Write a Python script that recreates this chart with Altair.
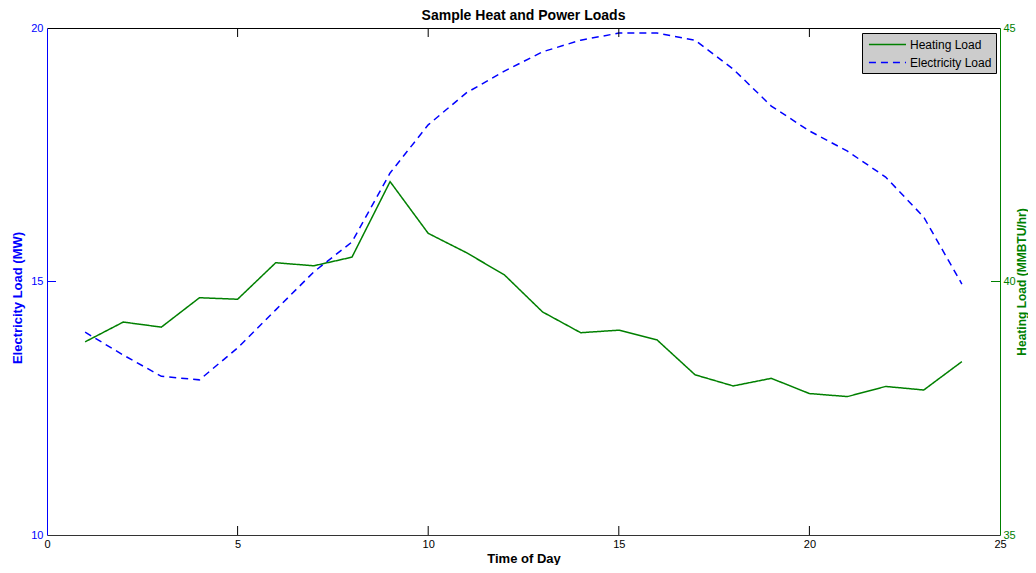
import altair as alt
import pandas as pd

# ---- data ----
hours = list(range(1, 25))
electricity = [14.00, 13.55, 13.13, 13.06, 13.69, 14.44, 15.19, 15.78, 17.14, 18.09,
               18.72, 19.15, 19.53, 19.76, 19.90, 19.90, 19.76, 19.19, 18.46, 17.97,
               17.57, 17.06, 16.27, 14.95]
heating = [38.81, 39.20, 39.10, 39.68, 39.65, 40.37, 40.31, 40.48, 41.97, 40.95,
           40.57, 40.13, 39.40, 38.99, 39.04, 38.85, 38.16, 37.94, 38.09, 37.79,
           37.73, 37.93, 37.86, 38.42]
x_ticks = [0, 5, 10, 15, 20, 25]
x_inner_ticks = [5, 10, 15, 20]
left_ticks = [10, 15, 20]
left_inner_ticks = [15]
right_ticks = [35, 40, 45]
right_inner_ticks = [40]
series_names = ["Heating Load", "Electricity Load"]
series_colors = ["#008000", "#0000ff"]
series_dashes = [[1, 0], [7, 5]]

W, H = 953, 507
TICK = 9
FONT = "Liberation Sans"
BLUE = "#0000ff"
GREEN = "#008000"

df_e = pd.DataFrame({"hour": hours, "value": electricity, "series": "Electricity Load"})
df_h = pd.DataFrame({"hour": hours, "value": heating, "series": "Heating Load"})
df_xt = pd.DataFrame({"t": x_inner_ticks})
df_lt = pd.DataFrame({"v": left_inner_ticks})
df_rt = pd.DataFrame({"v": right_inner_ticks})

xscale = alt.Scale(domain=[0, 25], nice=False, zero=False)
lscale = alt.Scale(domain=[10, 20], nice=False, zero=False)
rscale = alt.Scale(domain=[35, 45], nice=False, zero=False)

legend = alt.Legend(
    title=None, orient="none", legendX=815, legendY=5,
    fillColor="#cccccc", strokeColor="#000000", padding=4,
    labelFont=FONT, labelFontSize=12, labelColor="#000000",
    symbolType="M-0.7,0H5", symbolSize=169, symbolStrokeWidth=1.5,
    rowPadding=4, labelOffset=29,
)
color = alt.Color("series:N", scale=alt.Scale(domain=series_names, range=series_colors), legend=legend)
dash = alt.StrokeDash("series:N", scale=alt.Scale(domain=series_names, range=series_dashes), legend=legend)

heat = alt.Chart(df_h).mark_line(strokeWidth=1.5).encode(
    x=alt.X("hour:Q", scale=xscale, axis=alt.Axis(
        orient="bottom", values=x_ticks, ticks=False, labelFlush=False,
        domainColor="#333333", labelColor="#000000", labelFontSize=11, labelPadding=3,
        title="Time of Day", titleFontSize=13, titleFontWeight="bold", titleColor="#000000",
        titlePadding=3, grid=False)),
    y=alt.Y("value:Q", scale=rscale, axis=alt.Axis(
        orient="right", values=right_ticks, ticks=False, domainColor=GREEN,
        labelColor=GREEN, labelFontSize=11, labelPadding=3,
        title="Heating Load (MMBTU/hr)", titleAngle=270, titleBaseline="middle",
        titleX=21, titleY=H / 2, titleFontSize=12,
        titleFontWeight="bold", titleColor=GREEN, grid=False)),
    color=color,
    strokeDash=dash,
)

elec = alt.Chart(df_e).mark_line(strokeWidth=1.5).encode(
    x=alt.X("hour:Q", scale=xscale, axis=None),
    y=alt.Y("value:Q", scale=lscale, axis=alt.Axis(
        orient="left", values=left_ticks, ticks=False, domainColor=BLUE,
        labelColor=BLUE, labelFontSize=11, labelPadding=4,
        title="Electricity Load (MW)", titleAngle=270, titleBaseline="middle",
        titleX=-30, titleY=H / 2 + 16, titleFontSize=13, titleFontWeight="bold",
        titleColor=BLUE, grid=False)),
    color=color,
    strokeDash=dash,
)

bottom_ticks = alt.Chart(df_xt).mark_rule(color="#000000", strokeWidth=1).encode(
    x=alt.X("t:Q", scale=xscale, axis=None),
    y=alt.value(H), y2=alt.value(H - TICK),
)
top_ticks = alt.Chart(df_xt).mark_rule(color="#000000", strokeWidth=1).encode(
    x=alt.X("t:Q", scale=xscale, axis=alt.Axis(
        orient="top", values=x_ticks, ticks=False, labels=False, title=None,
        domainColor="#000000", grid=False)),
    y=alt.value(0), y2=alt.value(TICK),
)
left_tick = alt.Chart(df_lt).mark_rule(color=BLUE, strokeWidth=1).encode(
    y=alt.Y("v:Q", scale=lscale, axis=None),
    x=alt.value(0), x2=alt.value(TICK),
)
right_tick = alt.Chart(df_rt).mark_rule(color=GREEN, strokeWidth=1).encode(
    y=alt.Y("v:Q", scale=rscale, axis=None),
    x=alt.value(W), x2=alt.value(W - TICK),
)

chart = alt.layer(
    heat, elec, bottom_ticks, top_ticks, left_tick, right_tick
).resolve_scale(
    y="independent"
).resolve_axis(
    x="independent", y="independent"
).properties(
    width=W, height=H,
    title=alt.TitleParams("Sample Heat and Power Loads", font=FONT, fontSize=14,
                          fontWeight="bold", color="#000000", anchor="middle",
                          frame="group", offset=-1),
    autosize=alt.AutoSizeParams(type="none"),
    padding={"left": 39, "top": 20, "right": 28, "bottom": 30},
).configure(
    font=FONT,
).configure_axis(
    labelFont=FONT, titleFont=FONT,
).configure_view(
    stroke=None,
)

chart.save("out.html", embed_options={"renderer": "svg", "actions": False})
